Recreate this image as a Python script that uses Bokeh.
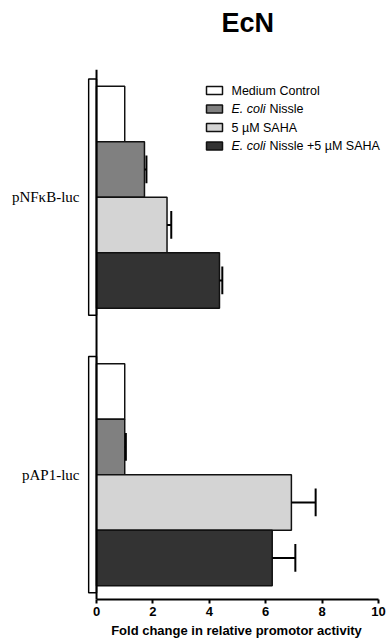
from bokeh.plotting import figure
from bokeh.models import Range1d, Span, FixedTicker, ColumnDataSource, Title
from bokeh.core.properties import value
from bokeh.embed import file_html
from bokeh.resources import INLINE

# ---- data ----
groups = ["pNFκB-luc", "pAP1-luc"]
treatments = ["Medium Control", "E. coli Nissle", "5 µM SAHA", "E. coli Nissle +5 µM SAHA"]
legend_italic = ["", "E. coli", "", "E. coli"]
legend_rest = ["Medium Control", "Nissle", "5 µM SAHA", "Nissle +5 µM SAHA"]
nfkb_values = [1.0, 1.70, 2.50, 4.36]
nfkb_errors = [0.0, 0.07, 0.15, 0.10]
ap1_values = [1.0, 1.00, 6.91, 6.23]
ap1_errors = [0.0, 0.04, 0.86, 0.82]
colors = ["#ffffff", "#808080", "#d4d4d4", "#333333"]
x_ticks = [0, 2, 4, 6, 8, 10]

# ---- layout constants ----
W, H = 389, 643
FL, FT, FW, FH = 87, 69, 298, 530
X0, X1 = -0.32, 10.247
Y0, Y1 = 0.0, 9.55

def dx(px):
    return X0 + (px - FL) / FW * (X1 - X0)

def dy(py):
    return Y1 - (py - FT) / FH * (Y1 - Y0)

p = figure(width=W, height=H, output_backend="svg", toolbar_location=None,
           x_range=Range1d(X0, X1), y_range=Range1d(Y0, Y1),
           min_border_left=FL, min_border_right=W - FL - FW,
           min_border_top=FT, min_border_bottom=H - FT - FH)
p.outline_line_color = None
p.xgrid.visible = False
p.ygrid.visible = False
p.background_fill_color = "white"
p.border_fill_color = "white"

# white (invisible) spacer between frame and title, then the title itself
spacer = Title(text=".", text_font_size="1px", text_color="white", standoff=25)
p.add_layout(spacer, "above")
t = Title(text="EcN", align="left", offset=221 - FL, text_font="Liberation Sans",
          text_font_size="27px", text_font_style="bold", text_color="black",
          vertical_align="top", standoff=4)
p.add_layout(t, "above")

# bars
n = len(treatments)
group_vals = [nfkb_values, ap1_values]
group_errs = [nfkb_errors, ap1_errors]
centers = []
ys, rights, errs, cols = [], [], [], []
for g in range(len(groups)):
    base = (len(groups) - 1 - g) * (n + 1) + 0.75
    ys_g = [base + (n - 1 - i) for i in range(n)]
    centers.append(sum(ys_g) / n)
    ys += ys_g
    rights += group_vals[g]
    errs += group_errs[g]
    cols += colors

# group brackets
for g in range(len(groups)):
    c = centers[g]
    p.quad(left=-0.28, right=0, bottom=c - n / 2 - 0.13, top=c + n / 2 + 0.13,
           fill_color="white", line_color="black", line_width=1.5)

src = ColumnDataSource(dict(y=ys, right=rights, err=errs, color=cols,
                            hi=[r + e for r, e in zip(rights, errs)]))
p.hbar(y="y", left=0, right="right", height=1.0, fill_color="color",
       line_color="#111111", line_width=1.5, source=src)

esrc = ColumnDataSource(dict(y=[y for y, e in zip(ys, errs) if e > 0],
                             x0=[r for r, e in zip(rights, errs) if e > 0],
                             x1=[r + e for r, e in zip(rights, errs) if e > 0]))
esrc.data["ylo"] = [y - 0.25 for y in esrc.data["y"]]
esrc.data["yhi"] = [y + 0.25 for y in esrc.data["y"]]
p.segment(x0="x0", y0="y", x1="x1", y1="y", line_color="black", line_width=2, source=esrc)
p.segment(x0="x1", y0="ylo", x1="x1", y1="yhi", line_color="black", line_width=2, source=esrc)

# vertical axis line at x=0
p.add_layout(Span(location=0, dimension="height", line_color="black", line_width=2))

# x axis
xa = p.xaxis[0]
xa.bounds = (0, 10)
xa.ticker = FixedTicker(ticks=x_ticks)
xa.minor_tick_line_color = None
xa.major_tick_in = 0
xa.major_tick_out = 4
xa.axis_line_width = 2
xa.axis_line_color = "black"
xa.major_tick_line_color = "black"
xa.major_tick_line_width = 2
xa.major_label_text_font = "Liberation Sans"
xa.major_label_text_font_style = "bold"
xa.major_label_text_font_size = "13px"
xa.major_label_text_color = "black"
xa.major_label_standoff = 3
xa.axis_label = "Fold change in relative promotor activity"
xa.axis_label_text_font = "Liberation Sans"
xa.axis_label_text_font_style = "bold"
xa.axis_label_text_font_size = "13px"
xa.axis_label_text_color = "black"
xa.axis_label_standoff = 4

# y axis: group labels only
ya = p.yaxis[0]
ya.ticker = FixedTicker(ticks=centers)
ya.major_label_overrides = {c: g for c, g in zip(centers, groups)}
ya.axis_line_color = None
ya.major_tick_line_color = None
ya.minor_tick_line_color = None
ya.major_tick_in = 0
ya.major_tick_out = 0
ya.major_label_standoff = 8
ya.major_label_text_font = "Liberation Serif"
ya.major_label_text_font_size = "15px"
ya.major_label_text_color = "black"

# legend (manual, to allow italic species name)
row_py = [90, 108.5, 127, 145.5]
p.rect(x=[dx(214)] * n, y=[dy(r) for r in row_py], width=16, height=8,
       width_units="screen", height_units="screen",
       fill_color=colors, line_color="#111111", line_width=1.5)
it_idx = [i for i in range(n) if legend_italic[i]]
p.text(x=[dx(231)] * len(it_idx), y=[dy(row_py[i]) for i in it_idx],
       text=[legend_italic[i] for i in it_idx], text_font=value("Liberation Sans"),
       text_font_style="italic", text_font_size="12.5px", text_baseline="middle",
       text_color="black")
p.text(x=[dx(269) if legend_italic[i] else dx(231) for i in range(n)],
       y=[dy(r) for r in row_py], text=legend_rest, text_font=value("Liberation Sans"),
       text_font_size="12.5px", text_baseline="middle", text_color="black")

open("out.html", "w").write(file_html(p, INLINE))
